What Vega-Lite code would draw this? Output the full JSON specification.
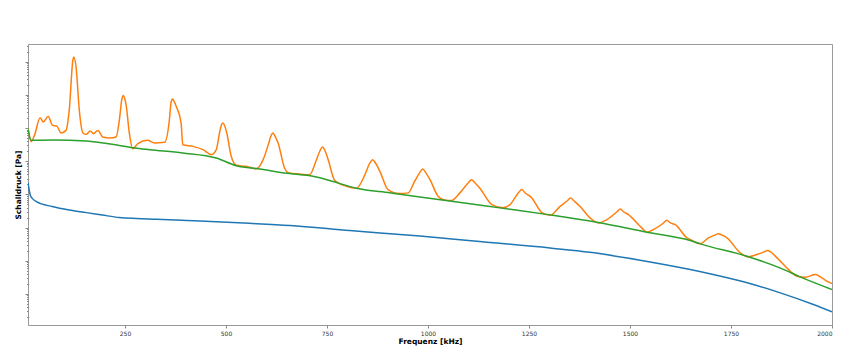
{
  "$schema": "https://vega.github.io/schema/vega-lite/v6.json",
  "width": 804,
  "height": 281,
  "autosize": {"type": "none"},
  "padding": {"left": 28, "top": 44, "right": 26, "bottom": 30},
  "background": "white",
  "config": {
    "font": "DejaVu Sans",
    "view": {"stroke": "#999999", "strokeWidth": 1},
    "axis": {"grid": false, "domain": false, "tickColor": "#888888", "labelColor": "#333333", "titleColor": "#000000", "titleFontWeight": "bold", "titleFontSize": 7.5, "labelFontSize": 6}
  },
  "datasets": {
    "curves": [
      {"series": "blue", "freq": 10, "pressure": 0.0226},
      {"series": "blue", "freq": 16, "pressure": 0.00918},
      {"series": "blue", "freq": 21, "pressure": 0.00745},
      {"series": "blue", "freq": 31, "pressure": 0.00605},
      {"series": "blue", "freq": 70, "pressure": 0.00429},
      {"series": "blue", "freq": 112, "pressure": 0.00336},
      {"series": "blue", "freq": 155, "pressure": 0.00282},
      {"series": "blue", "freq": 194, "pressure": 0.00238},
      {"series": "blue", "freq": 236, "pressure": 0.0020},
      {"series": "blue", "freq": 278, "pressure": 0.00187},
      {"series": "blue", "freq": 328, "pressure": 0.00178},
      {"series": "blue", "freq": 435, "pressure": 0.00157},
      {"series": "blue", "freq": 558, "pressure": 0.00134},
      {"series": "blue", "freq": 658, "pressure": 0.00115},
      {"series": "blue", "freq": 806, "pressure": 0.000811},
      {"series": "blue", "freq": 980, "pressure": 0.000555},
      {"series": "blue", "freq": 1128, "pressure": 0.000378},
      {"series": "blue", "freq": 1302, "pressure": 0.000242},
      {"series": "blue", "freq": 1401, "pressure": 0.000180},
      {"series": "blue", "freq": 1525, "pressure": 0.000104},
      {"series": "blue", "freq": 1649, "pressure": 0.0000544},
      {"series": "blue", "freq": 1706, "pressure": 0.0000385},
      {"series": "blue", "freq": 1790, "pressure": 0.0000217},
      {"series": "blue", "freq": 1872, "pressure": 0.0000108},
      {"series": "blue", "freq": 1954, "pressure": 0.00000482},
      {"series": "blue", "freq": 2000, "pressure": 0.0000029},

      {"series": "green", "freq": 10, "pressure": 0.953},
      {"series": "green", "freq": 18, "pressure": 0.424},
      {"series": "green", "freq": 71, "pressure": 0.436},
      {"series": "green", "freq": 154, "pressure": 0.406},
      {"series": "green", "freq": 236, "pressure": 0.299},
      {"series": "green", "freq": 274, "pressure": 0.25},
      {"series": "green", "freq": 311, "pressure": 0.222},
      {"series": "green", "freq": 393, "pressure": 0.177},
      {"series": "green", "freq": 476, "pressure": 0.125},
      {"series": "green", "freq": 526, "pressure": 0.0733},
      {"series": "green", "freq": 583, "pressure": 0.0583},
      {"series": "green", "freq": 658, "pressure": 0.0422},
      {"series": "green", "freq": 715, "pressure": 0.0350},
      {"series": "green", "freq": 782, "pressure": 0.0211},
      {"series": "green", "freq": 823, "pressure": 0.0152},
      {"series": "green", "freq": 906, "pressure": 0.0111},
      {"series": "green", "freq": 980, "pressure": 0.00839},
      {"series": "green", "freq": 1054, "pressure": 0.00635},
      {"series": "green", "freq": 1178, "pressure": 0.00392},
      {"series": "green", "freq": 1302, "pressure": 0.00241},
      {"series": "green", "freq": 1418, "pressure": 0.00144},
      {"series": "green", "freq": 1542, "pressure": 0.000721},
      {"series": "green", "freq": 1649, "pressure": 0.000406},
      {"series": "green", "freq": 1674, "pressure": 0.000323},
      {"series": "green", "freq": 1789, "pressure": 0.000137},
      {"series": "green", "freq": 1871, "pressure": 0.0000612},
      {"series": "green", "freq": 1921, "pressure": 0.0000328},
      {"series": "green", "freq": 2000, "pressure": 0.0000136},

      {"series": "orange", "freq": 10, "pressure": 0.953},
      {"series": "orange", "freq": 18, "pressure": 0.387},
      {"series": "orange", "freq": 26, "pressure": 0.598},
      {"series": "orange", "freq": 40, "pressure": 2.04},
      {"series": "orange", "freq": 48, "pressure": 1.52},
      {"series": "orange", "freq": 60, "pressure": 2.23},
      {"series": "orange", "freq": 71, "pressure": 1.20},
      {"series": "orange", "freq": 81, "pressure": 1.15},
      {"series": "orange", "freq": 92, "pressure": 0.708},
      {"series": "orange", "freq": 104, "pressure": 0.847},
      {"series": "orange", "freq": 112, "pressure": 3.39},
      {"series": "orange", "freq": 121, "pressure": 108},
      {"series": "orange", "freq": 123, "pressure": 137},
      {"series": "orange", "freq": 129, "pressure": 68.5},
      {"series": "orange", "freq": 137, "pressure": 3.39},
      {"series": "orange", "freq": 146, "pressure": 0.708},
      {"series": "orange", "freq": 154, "pressure": 0.642},
      {"series": "orange", "freq": 164, "pressure": 0.813},
      {"series": "orange", "freq": 172, "pressure": 0.673},
      {"series": "orange", "freq": 183, "pressure": 0.847},
      {"series": "orange", "freq": 195, "pressure": 0.536},
      {"series": "orange", "freq": 212, "pressure": 0.500},
      {"series": "orange", "freq": 228, "pressure": 0.536},
      {"series": "orange", "freq": 236, "pressure": 1.69},
      {"series": "orange", "freq": 242, "pressure": 7.0},
      {"series": "orange", "freq": 246, "pressure": 9.57},
      {"series": "orange", "freq": 250, "pressure": 7.2},
      {"series": "orange", "freq": 253, "pressure": 4.79},
      {"series": "orange", "freq": 261, "pressure": 0.673},
      {"series": "orange", "freq": 269, "pressure": 0.238},
      {"series": "orange", "freq": 282, "pressure": 0.337},
      {"series": "orange", "freq": 306, "pressure": 0.424},
      {"series": "orange", "freq": 323, "pressure": 0.354},
      {"series": "orange", "freq": 348, "pressure": 0.369},
      {"series": "orange", "freq": 360, "pressure": 1.78},
      {"series": "orange", "freq": 364, "pressure": 5.8},
      {"series": "orange", "freq": 368, "pressure": 7.46},
      {"series": "orange", "freq": 372, "pressure": 6.2},
      {"series": "orange", "freq": 377, "pressure": 4.47},
      {"series": "orange", "freq": 389, "pressure": 1.41},
      {"series": "orange", "freq": 393, "pressure": 0.314},
      {"series": "orange", "freq": 418, "pressure": 0.279},
      {"series": "orange", "freq": 443, "pressure": 0.222},
      {"series": "orange", "freq": 464, "pressure": 0.157},
      {"series": "orange", "freq": 476, "pressure": 0.222},
      {"series": "orange", "freq": 484, "pressure": 0.708},
      {"series": "orange", "freq": 488, "pressure": 1.15},
      {"series": "orange", "freq": 492, "pressure": 1.41},
      {"series": "orange", "freq": 497, "pressure": 1.15},
      {"series": "orange", "freq": 502, "pressure": 0.708},
      {"series": "orange", "freq": 513, "pressure": 0.140},
      {"series": "orange", "freq": 526, "pressure": 0.0750},
      {"series": "orange", "freq": 550, "pressure": 0.0699},
      {"series": "orange", "freq": 575, "pressure": 0.0583},
      {"series": "orange", "freq": 592, "pressure": 0.111},
      {"series": "orange", "freq": 606, "pressure": 0.354},
      {"series": "orange", "freq": 611, "pressure": 0.56},
      {"series": "orange", "freq": 616, "pressure": 0.708},
      {"series": "orange", "freq": 621, "pressure": 0.58},
      {"series": "orange", "freq": 629, "pressure": 0.354},
      {"series": "orange", "freq": 645, "pressure": 0.0625},
      {"series": "orange", "freq": 654, "pressure": 0.0452},
      {"series": "orange", "freq": 682, "pressure": 0.041},
      {"series": "orange", "freq": 707, "pressure": 0.039},
      {"series": "orange", "freq": 724, "pressure": 0.111},
      {"series": "orange", "freq": 733, "pressure": 0.21},
      {"series": "orange", "freq": 739, "pressure": 0.268},
      {"series": "orange", "freq": 745, "pressure": 0.21},
      {"series": "orange", "freq": 753, "pressure": 0.111},
      {"series": "orange", "freq": 769, "pressure": 0.0265},
      {"series": "orange", "freq": 798, "pressure": 0.0175},
      {"series": "orange", "freq": 823, "pressure": 0.0152},
      {"series": "orange", "freq": 844, "pressure": 0.0394},
      {"series": "orange", "freq": 856, "pressure": 0.087},
      {"series": "orange", "freq": 863, "pressure": 0.111},
      {"series": "orange", "freq": 870, "pressure": 0.088},
      {"series": "orange", "freq": 881, "pressure": 0.0494},
      {"series": "orange", "freq": 901, "pressure": 0.0139},
      {"series": "orange", "freq": 930, "pressure": 0.01054},
      {"series": "orange", "freq": 951, "pressure": 0.0111},
      {"series": "orange", "freq": 967, "pressure": 0.0247},
      {"series": "orange", "freq": 980, "pressure": 0.046},
      {"series": "orange", "freq": 987, "pressure": 0.0583},
      {"series": "orange", "freq": 994, "pressure": 0.046},
      {"series": "orange", "freq": 1005, "pressure": 0.0278},
      {"series": "orange", "freq": 1025, "pressure": 0.00875},
      {"series": "orange", "freq": 1038, "pressure": 0.00695},
      {"series": "orange", "freq": 1058, "pressure": 0.00649},
      {"series": "orange", "freq": 1079, "pressure": 0.0111},
      {"series": "orange", "freq": 1100, "pressure": 0.0225},
      {"series": "orange", "freq": 1108, "pressure": 0.0278},
      {"series": "orange", "freq": 1116, "pressure": 0.0225},
      {"series": "orange", "freq": 1128, "pressure": 0.0156},
      {"series": "orange", "freq": 1158, "pressure": 0.00492},
      {"series": "orange", "freq": 1186, "pressure": 0.00392},
      {"series": "orange", "freq": 1203, "pressure": 0.00492},
      {"series": "orange", "freq": 1224, "pressure": 0.0112},
      {"series": "orange", "freq": 1232, "pressure": 0.0139},
      {"series": "orange", "freq": 1240, "pressure": 0.0112},
      {"series": "orange", "freq": 1257, "pressure": 0.00782},
      {"series": "orange", "freq": 1281, "pressure": 0.00288},
      {"series": "orange", "freq": 1302, "pressure": 0.00234},
      {"series": "orange", "freq": 1327, "pressure": 0.00437},
      {"series": "orange", "freq": 1345, "pressure": 0.0064},
      {"series": "orange", "freq": 1353, "pressure": 0.00782},
      {"series": "orange", "freq": 1361, "pressure": 0.0064},
      {"series": "orange", "freq": 1376, "pressure": 0.00437},
      {"series": "orange", "freq": 1401, "pressure": 0.00196},
      {"series": "orange", "freq": 1422, "pressure": 0.00138},
      {"series": "orange", "freq": 1443, "pressure": 0.00174},
      {"series": "orange", "freq": 1468, "pressure": 0.0030},
      {"series": "orange", "freq": 1476, "pressure": 0.00365},
      {"series": "orange", "freq": 1484, "pressure": 0.0030},
      {"series": "orange", "freq": 1496, "pressure": 0.00246},
      {"series": "orange", "freq": 1529, "pressure": 0.000979},
      {"series": "orange", "freq": 1542, "pressure": 0.000721},
      {"series": "orange", "freq": 1558, "pressure": 0.000871},
      {"series": "orange", "freq": 1583, "pressure": 0.00137},
      {"series": "orange", "freq": 1591, "pressure": 0.00166},
      {"series": "orange", "freq": 1599, "pressure": 0.0014},
      {"series": "orange", "freq": 1612, "pressure": 0.00123},
      {"series": "orange", "freq": 1641, "pressure": 0.00049},
      {"series": "orange", "freq": 1649, "pressure": 0.000436},
      {"series": "orange", "freq": 1674, "pressure": 0.00033},
      {"series": "orange", "freq": 1694, "pressure": 0.00049},
      {"series": "orange", "freq": 1710, "pressure": 0.00059},
      {"series": "orange", "freq": 1719, "pressure": 0.000646},
      {"series": "orange", "freq": 1728, "pressure": 0.00059},
      {"series": "orange", "freq": 1740, "pressure": 0.00049},
      {"series": "orange", "freq": 1773, "pressure": 0.000173},
      {"series": "orange", "freq": 1793, "pressure": 0.000131},
      {"series": "orange", "freq": 1814, "pressure": 0.000154},
      {"series": "orange", "freq": 1832, "pressure": 0.000185},
      {"series": "orange", "freq": 1840, "pressure": 0.000203},
      {"series": "orange", "freq": 1848, "pressure": 0.000185},
      {"series": "orange", "freq": 1864, "pressure": 0.000122},
      {"series": "orange", "freq": 1897, "pressure": 0.0000484},
      {"series": "orange", "freq": 1913, "pressure": 0.0000342},
      {"series": "orange", "freq": 1934, "pressure": 0.0000319},
      {"series": "orange", "freq": 1959, "pressure": 0.0000385},
      {"series": "orange", "freq": 1975, "pressure": 0.0000306},
      {"series": "orange", "freq": 1992, "pressure": 0.0000226},
      {"series": "orange", "freq": 2000, "pressure": 0.0000206}
    ]
  },
  "data": {"name": "curves"},
  "resolve": {"axis": {"y": "independent"}},
  "layer": [
    {
      "transform": [{"filter": "datum.series === 'blue'"}],
      "mark": {"type": "line", "color": "#1f77b4", "strokeWidth": 1.5, "interpolate": "monotone", "clip": true},
      "encoding": {
        "x": {"field": "freq", "type": "quantitative", "scale": {"domain": [10, 2000], "nice": false, "zero": false},
              "axis": {"title": "Frequenz [kHz]", "format": "d", "values": [250, 500, 750, 1000, 1250, 1500, 1750, 2000], "tickSize": 3, "labelPadding": 2, "titlePadding": 1}},
        "y": {"field": "pressure", "type": "quantitative", "scale": {"type": "log", "domain": [0.00000116, 339], "nice": false},
              "axis": {"title": "Schalldruck [Pa]", "orient": "left", "labels": false, "tickSize": 3, "titlePadding": 2,
                       "values": [0.00001, 0.0001, 0.001, 0.01, 0.1, 1, 10, 100]}}
      }
    },
    {
      "transform": [{"filter": "datum.series === 'orange'"}],
      "mark": {"type": "line", "color": "#ff7f0e", "strokeWidth": 1.5, "interpolate": "monotone", "clip": true},
      "encoding": {
        "x": {"field": "freq", "type": "quantitative"},
        "y": {"field": "pressure", "type": "quantitative",
              "axis": {"title": null, "orient": "left", "labels": false, "tickSize": 1.5,
                       "values": [0.000002,0.000003,0.000004,0.000005,0.000006,0.000007,0.000008,0.000009,
                                  0.00002,0.00003,0.00004,0.00005,0.00006,0.00007,0.00008,0.00009,
                                  0.0002,0.0003,0.0004,0.0005,0.0006,0.0007,0.0008,0.0009,
                                  0.002,0.003,0.004,0.005,0.006,0.007,0.008,0.009,
                                  0.02,0.03,0.04,0.05,0.06,0.07,0.08,0.09,
                                  0.2,0.3,0.4,0.5,0.6,0.7,0.8,0.9,
                                  2,3,4,5,6,7,8,9,20,30,40,50,60,70,80,90,200,300]}}
      }
    },
    {
      "transform": [{"filter": "datum.series === 'green'"}],
      "mark": {"type": "line", "color": "#2ca02c", "strokeWidth": 1.5, "interpolate": "monotone", "clip": true},
      "encoding": {
        "x": {"field": "freq", "type": "quantitative"},
        "y": {"field": "pressure", "type": "quantitative", "axis": null}
      }
    }
  ]
}
